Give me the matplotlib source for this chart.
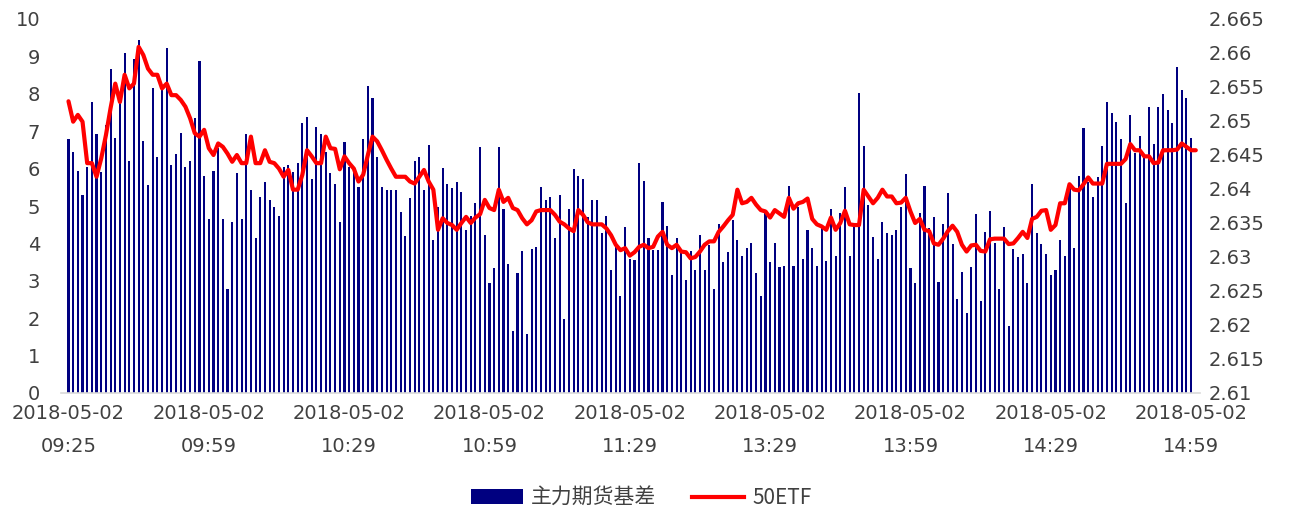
import matplotlib
matplotlib.use("Agg")
import matplotlib.pyplot as plt
import numpy as np
from matplotlib.patches import Patch
from matplotlib.lines import Line2D
from matplotlib.font_manager import FontProperties

# ---------------- data ----------------
series_bar_name = "主力期货基差"
series_line_name = "50ETF"

basis = [
    6.78, 6.45, 5.94, 5.29, 6.05, 7.77, 6.92, 5.9, 7.17, 8.66,
    6.83, 7.8, 9.08, 6.19, 8.92, 9.44, 6.74, 5.55, 8.15, 6.32,
    8.2, 9.22, 6.1, 6.4, 6.95, 6.05, 6.19, 7.34, 8.88, 5.8,
    4.65, 5.94, 6.54, 4.65, 2.78, 4.56, 5.89, 4.65, 6.93, 5.43,
    4.15, 5.25, 5.63, 5.16, 4.98, 4.73, 6.05, 6.1, 5.9, 6.14,
    7.21, 7.37, 5.72, 7.12, 6.93, 6.45, 5.89, 5.59, 4.56, 6.7,
    6.05, 6.0, 5.52, 6.79, 8.21, 7.9, 6.32, 5.51, 5.43, 5.43,
    5.43, 4.83, 4.2, 5.22, 6.2, 6.32, 5.43, 6.63, 4.09, 4.96,
    6.02, 5.59, 5.47, 5.63, 5.38, 4.36, 4.73, 5.09, 6.58, 4.22,
    2.95, 3.33, 6.57, 4.91, 3.46, 1.66, 3.2, 3.8, 1.57, 3.84,
    3.9, 5.5, 5.16, 5.25, 4.14, 5.29, 1.97, 4.91, 5.98, 5.8,
    5.72, 4.7, 5.16, 5.16, 4.27, 4.73, 3.29, 4.0, 2.6, 4.43,
    3.58, 3.56, 6.14, 5.68, 4.14, 3.82, 3.82, 5.12, 4.47, 3.16,
    4.14, 3.73, 3.02, 3.8, 3.29, 4.22, 3.29, 3.96, 2.77, 4.52,
    3.49, 3.76, 4.63, 4.09, 3.67, 3.89, 4.0, 3.2, 2.6, 4.8,
    3.49, 4.0, 3.36, 3.4, 5.54, 3.4, 4.96, 3.58, 4.36, 3.89,
    3.4, 4.45, 3.54, 4.91, 3.67, 4.82, 5.5, 3.67, 4.5, 8.03,
    6.61, 5.03, 4.18, 3.58, 4.56, 4.27, 4.22, 4.36, 4.98, 5.85,
    3.33, 2.95, 4.82, 5.54, 4.4, 4.7, 2.98, 4.52, 5.34, 3.98,
    2.51, 3.24, 2.13, 3.36, 4.78, 2.47, 4.31, 4.87, 4.0, 2.77,
    4.43, 1.79, 3.84, 3.63, 3.72, 2.95, 5.59, 4.27, 3.98, 3.71,
    3.16, 3.29, 4.09, 3.67, 5.5, 3.89, 5.8, 7.08, 5.65, 5.25,
    5.77, 6.61, 7.77, 7.5, 7.25, 6.78, 5.07, 7.43, 6.41, 6.87,
    6.3, 7.64, 6.66, 7.64, 7.99, 7.58, 7.21, 8.71, 8.1, 7.9, 6.83,
]

etf = [
    2.6529, 2.6499, 2.6509, 2.6499, 2.6438, 2.6438, 2.6418, 2.6445, 2.6479, 2.6519,
    2.6555, 2.6528, 2.6568, 2.6548, 2.6555, 2.6609, 2.6597, 2.6577, 2.6568, 2.6568,
    2.6548, 2.6555, 2.6538, 2.6538, 2.6531, 2.6521, 2.6504, 2.6482, 2.6477, 2.6487,
    2.646, 2.645, 2.6467, 2.6462, 2.6452, 2.644, 2.645, 2.6438, 2.6438, 2.6477,
    2.6438, 2.6438, 2.6457, 2.644, 2.6438, 2.643, 2.6418, 2.6428, 2.6399, 2.6399,
    2.6421, 2.6457, 2.6448, 2.6438, 2.6438, 2.6477, 2.646, 2.6459, 2.6429, 2.6448,
    2.6438, 2.643, 2.6411, 2.6421, 2.645, 2.6477, 2.647, 2.6457, 2.6443, 2.643,
    2.6418, 2.6418, 2.6418, 2.6411, 2.6408, 2.6418, 2.6428, 2.6411, 2.6399, 2.634,
    2.6357, 2.635, 2.6347, 2.634, 2.635, 2.6359, 2.635, 2.6358, 2.6363, 2.6384,
    2.6372, 2.6369, 2.6399, 2.6381, 2.6387, 2.6372, 2.6369, 2.6357, 2.6348, 2.6354,
    2.6367, 2.6369, 2.6369, 2.6369, 2.6362, 2.6352, 2.6348, 2.6342, 2.6338, 2.6369,
    2.6362, 2.6351, 2.6348, 2.6348, 2.6348, 2.6342, 2.6332, 2.6318, 2.631, 2.6313,
    2.6302, 2.6307, 2.6315, 2.6318, 2.6313, 2.6315, 2.633, 2.6337, 2.6318, 2.6313,
    2.6318, 2.6308, 2.6307, 2.6298, 2.63, 2.6308, 2.6318, 2.6323, 2.6323, 2.6337,
    2.6345, 2.6354, 2.6362, 2.6399, 2.6379, 2.6381, 2.6387, 2.6377, 2.6369, 2.6367,
    2.6358, 2.6369, 2.6364, 2.6359, 2.6387, 2.6371, 2.6379, 2.6381, 2.6386, 2.6356,
    2.6348, 2.6345, 2.634, 2.6358, 2.634, 2.635, 2.6368, 2.6348, 2.6347, 2.6347,
    2.6399, 2.6389, 2.6379, 2.6387, 2.6399, 2.6389, 2.6389, 2.6379, 2.638, 2.6387,
    2.6367, 2.635, 2.6356, 2.634, 2.6338, 2.632, 2.6318, 2.6327, 2.6338, 2.6346,
    2.6337, 2.6318, 2.6308, 2.6317, 2.6318, 2.6309, 2.6308, 2.6326, 2.6327, 2.6327,
    2.6327, 2.6319, 2.632, 2.6328, 2.6337, 2.6328, 2.6356, 2.6359, 2.6368, 2.6369,
    2.634, 2.6347, 2.6379, 2.6379, 2.6407, 2.6399, 2.6398, 2.6407, 2.6417, 2.6408,
    2.6408, 2.6408, 2.6437, 2.6437, 2.6437, 2.6437, 2.6444, 2.6466, 2.6457, 2.6457,
    2.6448, 2.6448, 2.6438, 2.6439, 2.6457, 2.6457, 2.6457, 2.6458, 2.6467, 2.6462,
    2.6457, 2.6457,
]

tick_index = [0, 30, 60, 90, 120, 150, 180, 210, 240]
tick_dates = ["2018-05-02"] * 9
tick_times = ["09:25", "09:59", "10:29", "10:59", "11:29", "13:29", "13:59", "14:29", "14:59"]
left_ticks = [0, 1, 2, 3, 4, 5, 6, 7, 8, 9, 10]
right_ticks = [2.61, 2.615, 2.62, 2.625, 2.63, 2.635, 2.64, 2.645, 2.65, 2.655, 2.66, 2.665]

# ---------------- style ----------------
plt.rcParams["font.family"] = ["DejaVu Sans", "Noto Sans CJK SC"]
TEXT = "#404040"
BAR = "#000080"
RED = "#FF0000"

W, H = 1293, 513
fig = plt.figure(figsize=(W / 100, H / 100), dpi=100)
L, R, T, B = 61, 1200, 19, 393
ax = fig.add_axes([L / W, 1 - B / H, (R - L) / W, (B - T) / H])

xb = np.arange(len(basis))
ax.bar(xb, basis, width=0.45, color=BAR, linewidth=0, zorder=2)
ax.set_ylim(0, 10)
ax.set_yticks(left_ticks)
ax.set_yticklabels([str(v) for v in left_ticks])
ax.set_xlim(-1.6, 241.9)
ax.set_xticks(tick_index)
ax.set_xticklabels([f"{d}\n{t}" for d, t in zip(tick_dates, tick_times)], linespacing=1.95)

ax2 = ax.twinx()
xl = np.arange(len(etf))
ax2.plot(xl, etf, color=RED, lw=3.0, solid_joinstyle="round", solid_capstyle="round", zorder=3)
ax2.set_ylim(2.61, 2.665)
ax2.set_yticks(right_ticks)
ax2.set_yticklabels([f"{v:g}" for v in right_ticks])
ax2.set_xlim(-1.6, 241.9)

for a in (ax, ax2):
    for s in ("top", "left", "right"):
        a.spines[s].set_visible(False)
ax2.spines["bottom"].set_visible(False)
ax.spines["bottom"].set_color("#D9D9D9")
ax.spines["bottom"].set_linewidth(1.2)

ax.tick_params(axis="y", length=0, labelsize=14, colors=TEXT, pad=15)
ax.tick_params(axis="x", length=0, labelsize=14, colors=TEXT, pad=8)
ax2.tick_params(axis="y", length=0, labelsize=14, colors=TEXT, pad=6)

handles = [Patch(facecolor=BAR, edgecolor="none"),
           Line2D([0], [0], color=RED, lw=3.0)]
leg = fig.legend(handles, [series_bar_name, series_line_name],
                 loc="center", bbox_to_anchor=(641 / W, 1 - 498 / H),
                 ncol=2, frameon=False,
                 prop=FontProperties(family=["Noto Sans CJK SC", "DejaVu Sans"], size=15),
                 handlelength=2.5, handleheight=0.7, columnspacing=1.7, handletextpad=0.4)
for t in leg.get_texts():
    t.set_color(TEXT)

fig.savefig("out.png", dpi=100)
